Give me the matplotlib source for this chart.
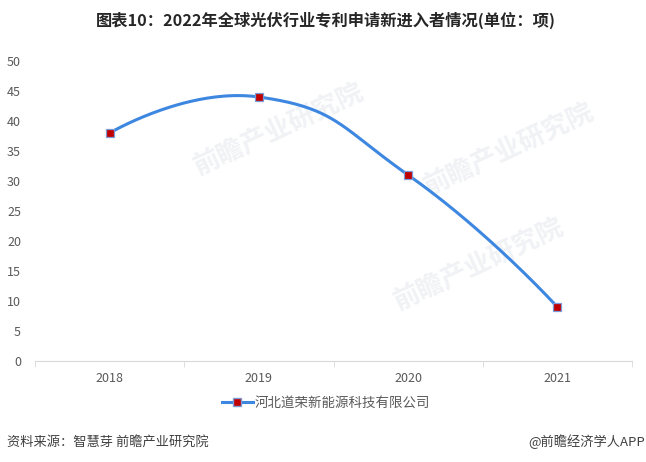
import numpy as np
import matplotlib
matplotlib.use("Agg")
import matplotlib.pyplot as plt
from matplotlib.lines import Line2D

plt.rcParams["font.family"] = ["Noto Sans CJK SC", "DejaVu Sans"]

years = ["2018", "2019", "2020", "2021"]
values = [38, 44, 31, 9]
series_name = "河北道荣新能源科技有限公司"
title = "图表10：2022年全球光伏行业专利申请新进入者情况(单位：项)"
source = "资料来源：智慧芽 前瞻产业研究院"
brand = "@前瞻经济学人APP"

line_color = "#3D87E0"
marker_color = "#C00000"
text_color = "#595959"

W, H = 646, 462
ax_l, ax_r, ax_b, ax_t = 35, 632, 361, 61


def smooth_curve(xs, ys, sx, sy, smooth=0.5, n=80):
    # bezier through points, control points like echarts (done in pixel space)
    pts = np.column_stack([np.asarray(xs) * sx, np.asarray(ys) * sy]).astype(float)
    m = len(pts)
    cin = [p.copy() for p in pts]
    cout = [p.copy() for p in pts]
    for i in range(1, m - 1):
        prev, nxt = pts[i - 1], pts[i + 1]
        v = (nxt - prev) * smooth
        d0 = np.linalg.norm(pts[i] - prev)
        d1 = np.linalg.norm(nxt - pts[i])
        ratio = d0 / (d0 + d1)
        cin[i] = pts[i] - v * ratio
        cout[i] = pts[i] + v * (1 - ratio)
    t = np.linspace(0, 1, n)[:, None]
    segs = []
    for i in range(m - 1):
        p0, p1, p2, p3 = pts[i], cout[i], cin[i + 1], pts[i + 1]
        segs.append((1 - t) ** 3 * p0 + 3 * t * (1 - t) ** 2 * p1
                    + 3 * t ** 2 * (1 - t) * p2 + t ** 3 * p3)
    out = np.vstack(segs)
    return out[:, 0] / sx, out[:, 1] / sy


fig = plt.figure(figsize=(W / 100, H / 100), dpi=100)
ax = fig.add_axes([ax_l / W, 1 - ax_b / H, (ax_r - ax_l) / W, (ax_b - ax_t) / H])
ax.set_facecolor("none")
ax.set_zorder(1)

x = np.arange(len(years))
px_x = (ax_r - ax_l) / len(years)
px_y = (ax_b - ax_t) / 50
cx, cy = smooth_curve(x, values, px_x, px_y)
ax.plot(cx, cy, color=line_color, lw=2.2, zorder=2, solid_capstyle="round")
ax.plot(x, values, ls="none", marker="s", ms=5.5, mfc=marker_color,
        mec="#7C9BD9", mew=0.9, zorder=3)

ax.set_xlim(-0.5, len(years) - 0.5)
ax.set_ylim(0, 50)
ax.set_yticks(range(0, 51, 5))
ax.set_xticks(x)
ax.set_xticklabels(years)
ax.set_xticks(np.arange(-0.5, len(years), 1), minor=True)

for s in ["top", "right", "left"]:
    ax.spines[s].set_visible(False)
ax.spines["bottom"].set_color("#D9D9D9")
ax.tick_params(axis="y", length=0, pad=10, labelsize=9, labelcolor=text_color)
ax.tick_params(axis="x", which="major", length=0, pad=8, labelsize=9, labelcolor=text_color)
ax.tick_params(axis="x", which="minor", length=4, color="#D9D9D9")

# faint watermarks behind the chart
for wx, wy in [(190, 175), (390, 310), (420, 195)]:
    fig.text(wx / W, 1 - wy / H, "前瞻产业研究院", fontsize=19, fontweight="bold",
             color="#F1F2F5", rotation=25, zorder=-1)

fig.text(326 / W, 1 - 20 / H, title, ha="center", va="center",
         fontsize=11.7, fontweight="bold", color="#262626")

handle = Line2D([], [], color=line_color, lw=2.2, marker="s", ms=5.5,
                mfc=marker_color, mec="#7C9BD9")
fig.legend([handle], [series_name], loc="center", bbox_to_anchor=(326 / W, 1 - 403 / H),
           frameon=False, fontsize=9.7, handlelength=2.3, handletextpad=0.15,
           labelcolor=text_color)

fig.text(7 / W, 1 - 442 / H, source, ha="left", va="center", fontsize=9.5, color="#404040")
fig.text(645 / W, 1 - 442 / H, brand, ha="right", va="center", fontsize=9.5, color="#404040")

fig.savefig("out.png", dpi=100)
